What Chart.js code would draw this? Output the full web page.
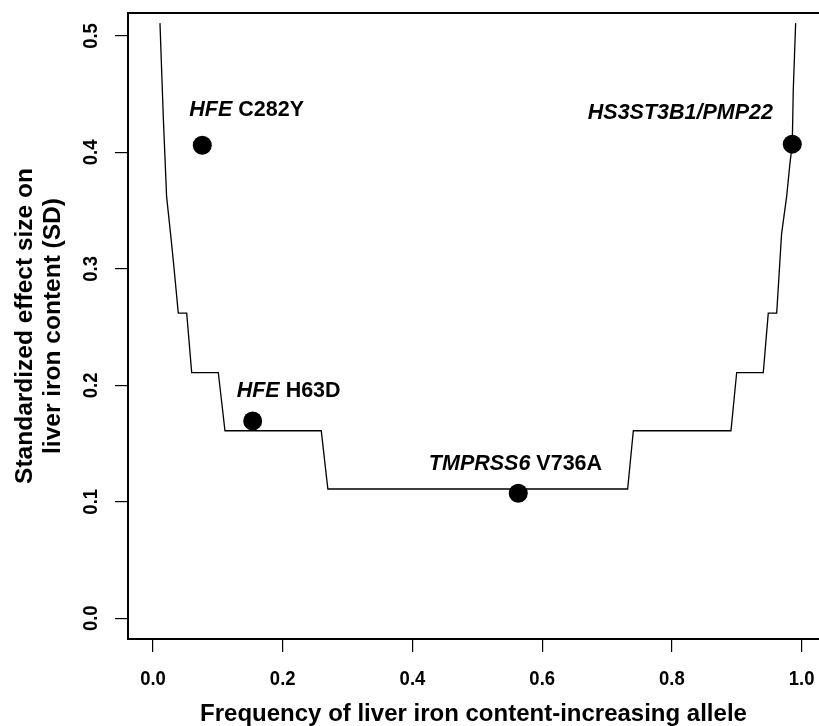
<!DOCTYPE html>
<html>
<head>
<meta charset="utf-8">
<title>Liver iron power curve</title>
<script src="https://cdn.jsdelivr.net/npm/chart.js@4.4.1/dist/chart.umd.min.js"></script>
<style>
  html, body { margin: 0; padding: 0; background: #fff; overflow: hidden; }
  canvas { display: block; }
</style>
</head>
<body>
<canvas id="powerChart" width="819" height="726"></canvas>
<script>
//// minimum detectable effect vs allele frequency (step curve)
const curveFreq = [0.0108, 0.0139, 0.0160, 0.0210, 0.0277, 0.0324, 0.0390, 0.0520, 0.0597, 0.1007,
  0.1110, 0.2594, 0.2696, 0.7317, 0.7405, 0.8910, 0.8998, 0.9408, 0.9485, 0.9615,
  0.9690, 0.9768, 0.9820, 0.9855, 0.9870, 0.9907];
const curveEffect = [0.511, 0.462, 0.429, 0.362, 0.327, 0.301, 0.262, 0.262, 0.211, 0.211,
  0.161, 0.161, 0.111, 0.111, 0.161, 0.161, 0.211, 0.211, 0.262, 0.262,
  0.330, 0.362, 0.391, 0.407, 0.453, 0.511];

//// observed variants
const snpGene = ["HFE", "HFE", "TMPRSS6", "HS3ST3B1/PMP22"];
const snpVariant = ["C282Y", "H63D", "V736A", ""];
const snpFreq = [0.076, 0.1537, 0.5631, 0.9855];
const snpEffect = [0.4062, 0.1694, 0.1073, 0.4071];

//// label anchors (data units)
const labelFreq = [0.056, 0.129, 0.5588, 0.9558];
const labelEffect = [0.4311, 0.1902, 0.1273, 0.4291];
const labelAlign = ["left", "left", "center", "right"];

//// axes
const xTicks = [0, 0.2, 0.4, 0.6, 0.8, 1.0];
const yTicks = [0, 0.1, 0.2, 0.3, 0.4, 0.5];
const xTitle = "Frequency of liver iron content-increasing allele";
const yTitle = ["Standardized effect size on", "liver iron content (SD)"];

const mainFont = '"Liberation Sans", Arial, sans-serif';
const tickFont = "bold 21px " + mainFont;
const tickSqueeze = 0.88;

// top edge of the box (bottom/left come from the axis borders)
const framePlugin = {
  id: "frame",
  afterDraw(chart) {
    const { ctx, chartArea } = chart;
    ctx.save();
    ctx.strokeStyle = "#000";
    ctx.lineWidth = 2;
    ctx.beginPath();
    ctx.moveTo(chartArea.left - 1, chartArea.top);
    ctx.lineTo(chartArea.right, chartArea.top);
    ctx.stroke();
    ctx.restore();
  }
};

// tick labels in a slightly condensed face; y labels read bottom-to-top
const tickLabelPlugin = {
  id: "tickLabels",
  afterDraw(chart) {
    const { ctx } = chart;
    const xScale = chart.scales.x;
    const yScale = chart.scales.y;
    ctx.save();
    ctx.fillStyle = "#000";
    ctx.font = tickFont;
    ctx.textAlign = "center";
    ctx.textBaseline = "middle";
    xScale.ticks.forEach((t) => {
      const px = xScale.getPixelForValue(t.value);
      ctx.save();
      ctx.translate(px, 679);
      ctx.scale(tickSqueeze, 1);
      ctx.fillText(t.value.toFixed(1), 0, 0);
      ctx.restore();
    });
    yScale.ticks.forEach((t) => {
      const py = yScale.getPixelForValue(t.value);
      ctx.save();
      ctx.translate(91, py);
      ctx.rotate(-Math.PI / 2);
      ctx.scale(tickSqueeze, 1);
      ctx.fillText(t.value.toFixed(1), 0, 0);
      ctx.restore();
    });
    ctx.restore();
  }
};

// gene names in italics, variant in plain bold
const snpLabelPlugin = {
  id: "snpLabels",
  afterDatasetsDraw(chart) {
    const { ctx } = chart;
    const xScale = chart.scales.x;
    const yScale = chart.scales.y;
    const italic = "italic bold 21.5px " + mainFont;
    const plain = "bold 21.5px " + mainFont;
    ctx.save();
    ctx.fillStyle = "#000";
    ctx.textBaseline = "alphabetic";
    ctx.textAlign = "left";
    snpGene.forEach((gene, i) => {
      const variant = snpVariant[i] ? " " + snpVariant[i] : "";
      ctx.font = italic;
      const wGene = ctx.measureText(gene).width;
      ctx.font = plain;
      const wVar = ctx.measureText(variant).width;
      const total = wGene + wVar;
      let px = xScale.getPixelForValue(labelFreq[i]);
      const py = yScale.getPixelForValue(labelEffect[i]);
      if (labelAlign[i] === "center") px -= total / 2;
      if (labelAlign[i] === "right") px -= total;
      ctx.font = italic;
      ctx.fillText(gene, px, py);
      if (variant) {
        ctx.font = plain;
        ctx.fillText(variant, px + wGene, py);
      }
    });
    ctx.restore();
  }
};

const curvePoints = curveFreq.map((f, i) => ({ x: f, y: curveEffect[i] }));
const snpPoints = snpFreq.map((f, i) => ({ x: f, y: snpEffect[i] }));

const ctx = document.getElementById("powerChart").getContext("2d");
new Chart(ctx, {
  type: "scatter",
  data: {
    datasets: [
      {
        data: curvePoints,
        showLine: true,
        borderColor: "#000",
        borderWidth: 1.3,
        pointRadius: 0,
        fill: false,
        tension: 0
      },
      {
        data: snpPoints,
        pointRadius: 9.5,
        pointHoverRadius: 9.5,
        backgroundColor: "#000",
        borderColor: "#000",
        borderWidth: 0
      }
    ]
  },
  options: {
    responsive: false,
    animation: false,
    events: [],
    layout: { autoPadding: false, padding: { top: 13, left: 0, right: 0, bottom: 0 } },
    plugins: { legend: { display: false }, tooltip: { enabled: false } },
    scales: {
      x: {
        type: "linear",
        min: -0.0385,
        max: 1.0267,
        afterBuildTicks: (s) => { s.ticks = xTicks.map((v) => ({ value: v })); },
        afterFit: (s) => {
          s.height = 87;
          s.paddingLeft = 0;
          s.paddingRight = 0;
        },
        grid: { drawOnChartArea: false, drawTicks: true, tickLength: 13, color: "#000", lineWidth: 1.2 },
        border: { display: true, color: "#000", width: 2 },
        ticks: { display: false },
        title: {
          display: true,
          text: xTitle,
          color: "#000",
          padding: { top: 0, bottom: 0 },
          font: { family: mainFont, size: 24, weight: "bold", lineHeight: 1.0 }
        }
      },
      y: {
        type: "linear",
        min: -0.0178,
        max: 0.5197,
        afterBuildTicks: (s) => { s.ticks = yTicks.map((v) => ({ value: v })); },
        afterFit: (s) => {
          s.width = 128;
          s.paddingTop = 0;
          s.paddingBottom = 0;
        },
        grid: { drawOnChartArea: false, drawTicks: true, tickLength: 13, color: "#000", lineWidth: 1.2 },
        border: { display: true, color: "#000", width: 2 },
        ticks: { display: false },
        title: {
          display: true,
          text: yTitle,
          color: "#000",
          padding: { top: 11, bottom: 0 },
          font: { family: mainFont, size: 24.5, weight: "bold", lineHeight: 1.143 }
        }
      }
    }
  },
  plugins: [framePlugin, tickLabelPlugin, snpLabelPlugin]
});
</script>
</body>
</html>
